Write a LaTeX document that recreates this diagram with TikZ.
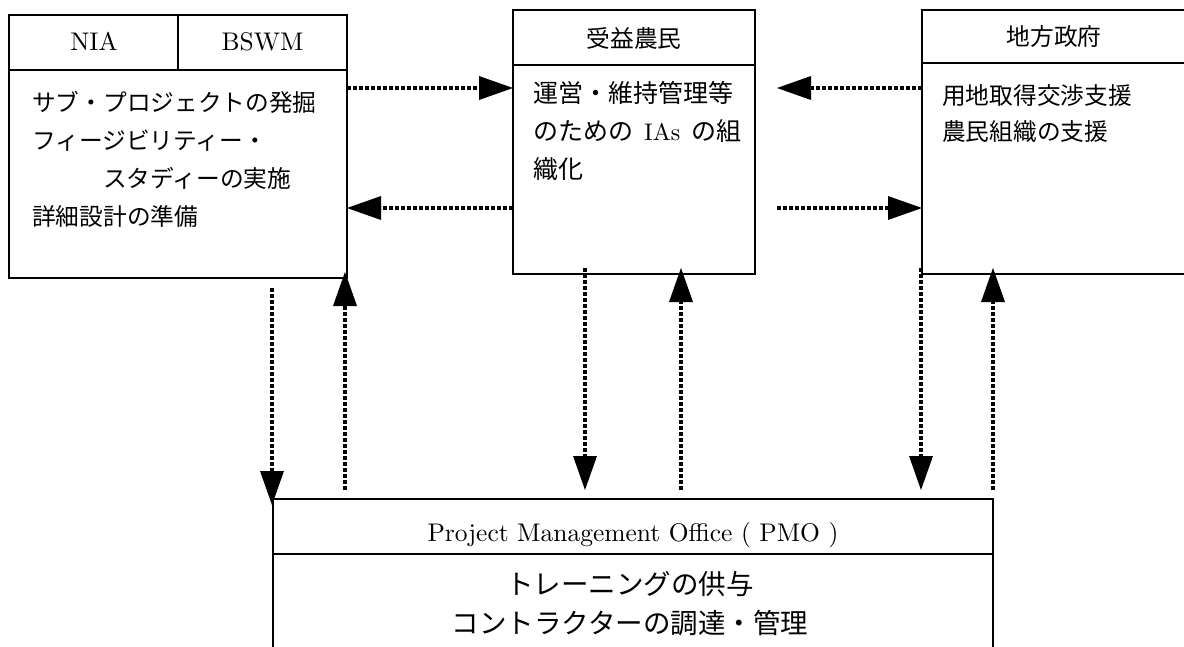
\documentclass[tikz,border=0pt]{standalone}
\usepackage{fontspec}
\newfontfamily\jp{Noto Sans CJK JP}
\usetikzlibrary{arrows.meta}
\newcommand{\latin}[2][2.55]{\scalebox{#1}{\rmfamily\fontsize{10pt}{12pt}\selectfont #2}}
\begin{document}
\begin{tikzpicture}[x=1pt,y=-1pt,
  box/.style={draw, line width=1.5pt, inner sep=0pt, outer sep=0pt, anchor=north west},
  jline/.style={inner sep=0pt, anchor=base west, font=\jp\fontsize{23.7pt}{38pt}\selectfont},
  jmid/.style={inner sep=0pt, anchor=base west, font=\jp\fontsize{25pt}{38pt}\selectfont},
  jhead/.style={inner sep=0pt, anchor=base, font=\jp\fontsize{23.7pt}{38pt}\selectfont},
  jbig/.style={inner sep=0pt, anchor=base, font=\jp\fontsize{27.5pt}{36pt}\selectfont},
  lhead/.style={inner sep=0pt, anchor=base},
  flow/.style={line width=4pt, dash pattern=on 4pt off 2pt,
    -{Triangle[length=34pt,width=24pt,line width=0pt]}},
  into/.style={shorten >=-6pt}]
\useasboundingbox (0,0) rectangle (1184,646);
\clip (0,0) rectangle (1184,646);

% left box
\node[box, minimum width=169pt, minimum height=55pt] (nia) at (9,15) {};
\node[box, minimum width=169pt, minimum height=55pt] (bswm) at (178,15) {};
\node[box, minimum width=338pt, minimum height=208pt] (lbody) at (9,70) {};
\node[lhead] (niaT) at (94,50) {\latin{NIA}};
\node[lhead] (bswmT) at (262.5,50) {\latin{BSWM}};
\node[jline] (l1) at (32,111) {サブ・プロジェクトの発掘};
\node[jline] (l2) at (32,149) {フィージビリティー・};
\node[jline] (l3) at (103,187) {スタディーの実施};
\node[jline] (l4) at (32,225) {詳細設計の準備};

% middle box
\node[box, minimum width=242pt, minimum height=55pt] (mhead) at (513,10) {};
\node[box, minimum width=242pt, minimum height=209pt] (mbody) at (513,65) {};
\node[jhead] (mheadT) at (634,47) {受益農民};
\node[jmid] (m1) at (533,102) {運営・維持管理等};
\node[jmid] (m2) at (533,140) {のための\hspace{11pt}\latin[2.4]{IAs}\hspace{11pt}の組};
\node[jmid] (m3) at (533,178) {織化};

% right box
\node[box, minimum width=268pt, minimum height=53pt] (rhead) at (922,10) {};
\node[box, minimum width=268pt, minimum height=211pt] (rbody) at (922,63) {};
\node[jhead] (rheadT) at (1054,45) {地方政府};
\node[jline] (r1) at (942,104) {用地取得交渉支援};
\node[jline] (r2) at (942,140) {農民組織の支援};

% PMO box
\node[box, minimum width=720pt, minimum height=55pt] (phead) at (273,499) {};
\node[box, minimum width=720pt, minimum height=110pt] (pbody) at (273,554) {};
\node[lhead] (pheadT) at (633,541) {\latin{Project Management Office ( PMO )}};
\node[jbig] (p1) at (630,594) {トレーニングの供与};
\node[jbig] (p2) at (630,633) {コントラクターの調達・管理};

% free ends
\coordinate (hA) at (777,88);
\coordinate (hB) at (777,208);
\coordinate (vL) at (272,288);
\coordinate (uL) at (345,490);
\coordinate (dM) at (585,490);
\coordinate (uM) at (681,490);
\coordinate (dR) at (921,490);
\coordinate (uR) at (993,490);

% horizontal connectors
\draw[flow] (lbody.east |- hA) -- (mbody.west |- hA);
\draw[flow] (rbody.west |- hA) -- (hA);
\draw[flow] (mbody.west |- hB) -- (lbody.east |- hB);
\draw[flow] (hB) -- (rbody.west |- hB);

% vertical connectors
\draw[flow, into] (vL) -- (vL |- phead.north);
\draw[flow, into] (uL) -- (uL |- lbody.south);
\draw[flow, shorten <=-6pt] (dM |- mbody.south) -- (dM);
\draw[flow, into] (uM) -- (uM |- mbody.south);
\draw[flow, shorten <=-6pt] (dR |- rbody.south) -- (dR);
\draw[flow, into] (uR) -- (uR |- rbody.south);
\end{tikzpicture}
\end{document}
